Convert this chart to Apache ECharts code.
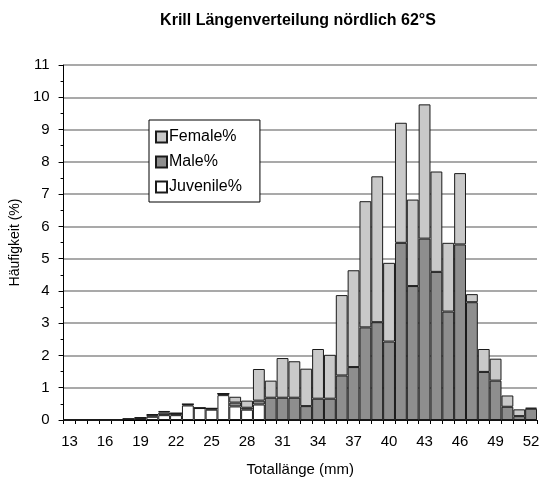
<!DOCTYPE html>
<html>
<head>
<meta charset="utf-8">
<script src="https://cdn.jsdelivr.net/npm/echarts@6/dist/echarts.min.js"></script>
<style>
  html, body { margin: 0; padding: 0; background: #fff; }
  #chart { width: 547px; height: 482px; }
</style>
</head>
<body>
<div id="chart"></div>
<script>
// Totallänge (mm), 13 .. 52
var lengths = ['13','14','15','16','17','18','19','20','21','22','23','24','25','26','27','28','29','30','31','32',
               '33','34','35','36','37','38','39','40','41','42','43','44','45','46','47','48','49','50','51','52'];

// Häufigkeit (%) je Gruppe, gestapelt: Juvenile unten, Male, Female oben
var juvenile = [0, 0, 0, 0, 0, 0.03, 0.05, 0.1, 0.15, 0.15, 0.45, 0.37, 0.32, 0.77, 0.42, 0.32, 0.48, 0, 0, 0,
                0, 0, 0, 0, 0, 0, 0, 0, 0, 0, 0, 0, 0, 0, 0, 0, 0, 0, 0, 0];
var male     = [0, 0, 0, 0, 0, 0, 0.02, 0.06, 0.08, 0.06, 0.04, 0, 0.04, 0.05, 0.12, 0.06, 0.12, 0.69, 0.69, 0.69,
                0.43, 0.66, 0.66, 1.38, 1.64, 2.87, 3.03, 2.43, 5.49, 4.15, 5.62, 4.59, 3.36, 5.44, 3.65, 1.49, 1.22, 0.41, 0.12, 0.35];
var female   = [0, 0, 0, 0, 0, 0, 0, 0.02, 0.05, 0, 0, 0, 0, 0, 0.18, 0.22, 0.98, 0.53, 1.23, 1.13,
                1.16, 1.54, 1.36, 2.49, 3.0, 3.91, 4.52, 2.44, 3.72, 2.68, 4.16, 3.11, 2.13, 2.21, 0.25, 0.71, 0.68, 0.35, 0.21, 0.03];

var myChart = echarts.init(document.getElementById('chart'));

var barBorder = { borderColor: '#1a1a1a', borderWidth: 1 };

myChart.setOption({
  animation: false,
  backgroundColor: '#fff',
  textStyle: { fontFamily: 'Liberation Sans', color: '#000' },
  title: {
    text: 'Krill Längenverteilung nördlich 62°S',
    left: 293,
    top: 8,
    textAlign: 'center',
    textStyle: { fontFamily: 'Liberation Sans', fontWeight: 'bold', fontSize: 16, color: '#000' }
  },
  legend: {
    orient: 'vertical',
    left: 149,
    top: 120,
    padding: [9, 18, 7, 6],
    itemGap: 9,
    itemWidth: 11,
    itemHeight: 11,
    icon: 'rect',
    borderColor: '#000',
    borderWidth: 1,
    borderRadius: 0,
    backgroundColor: '#fff',
    textStyle: { fontSize: 16, color: '#000', padding: [0, 0, 0, -3] },
    data: ['Female%', 'Male%', 'Juvenile%']
  },
  grid: { left: 60, right: 10, top: 65, bottom: 60 },
  xAxis: {
    type: 'category',
    data: lengths,
    boundaryGap: true,
    name: 'Totallänge (mm)',
    nameLocation: 'middle',
    nameGap: 42,
    nameTextStyle: { fontSize: 15, color: '#000' },
    axisLine: { lineStyle: { color: '#000', width: 1 } },
    axisTick: { show: true, interval: 0, length: 4, lineStyle: { color: '#000' } },
    axisLabel: { interval: 2, fontSize: 15, color: '#000', margin: 14 }
  },
  yAxis: {
    type: 'value',
    min: 0,
    max: 11,
    interval: 1,
    name: 'Häufigkeit (%)',
    nameLocation: 'middle',
    nameGap: 32,
    nameTextStyle: { fontSize: 14, color: '#000' },
    axisLine: { show: true, lineStyle: { color: '#000', width: 1 } },
    axisTick: { show: true, length: 5, lineStyle: { color: '#000' } },
    minorTick: { show: true, splitNumber: 2, length: 3, lineStyle: { color: '#000' } },
    axisLabel: { fontSize: 15, color: '#000', margin: 14 },
    splitLine: { show: true, lineStyle: { color: '#8c8c8c', width: 1.5 } }
  },
  series: [
    {
      name: 'Juvenile%',
      type: 'bar',
      stack: 'total',
      data: juvenile,
      barCategoryGap: '0%',
      itemStyle: Object.assign({ color: '#ffffff' }, barBorder)
    },
    {
      name: 'Male%',
      type: 'bar',
      stack: 'total',
      data: male,
      barCategoryGap: '0%',
      itemStyle: Object.assign({ color: '#8e8e8e' }, barBorder)
    },
    {
      name: 'Female%',
      type: 'bar',
      stack: 'total',
      data: female,
      barCategoryGap: '0%',
      itemStyle: Object.assign({ color: '#c9c9c9' }, barBorder)
    }
  ]
});
</script>
</body>
</html>
